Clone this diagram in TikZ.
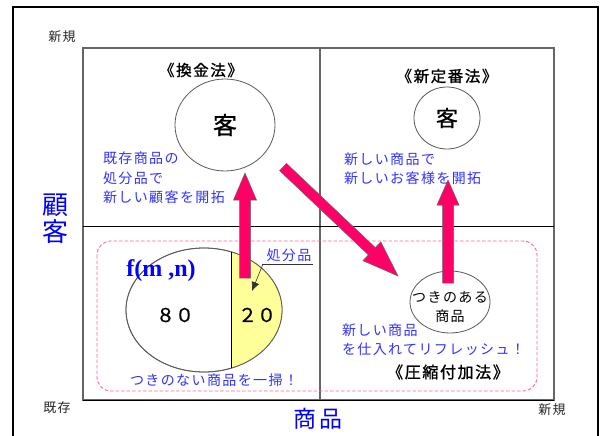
\documentclass[tikz,border=0pt]{standalone}
\usepackage{fontspec}
\setmainfont{Noto Sans CJK JP}
\newfontfamily\jp[LetterSpace=10]{Noto Sans CJK JP}
\newfontfamily\jpb[LetterSpace=10,FakeBold=1.2]{Noto Sans CJK JP}
\newfontfamily\jpm[FakeBold=0.8]{Noto Sans CJK JP}
\newfontfamily\tms{Liberation Serif}
\usetikzlibrary{calc,arrows.meta,shapes.geometric}
\definecolor{jblue}{RGB}{51,51,255}
\definecolor{bblue}{RGB}{0,0,255}
\definecolor{mag}{RGB}{255,0,102}
\definecolor{lyel}{RGB}{255,255,153}
\definecolor{pinkd}{RGB}{255,102,153}
% #1 name, #2 tail, #3 tip, #4 shaft half width, #5 head half width, #6 head length
\newcommand\fatarrow[6]{%
  \coordinate (#1h) at ($(#3)!#6!(#2)$);
  \draw[fatarrowst] ($(#2)!#4!90:(#3)$) -- ($(#1h)!#4!90:(#3)$) -- ($(#1h)!#5!90:(#3)$)
     -- (#3) -- ($(#1h)!#5!-90:(#3)$) -- ($(#1h)!#4!-90:(#3)$) -- ($(#2)!#4!-90:(#3)$) -- cycle;
}
\begin{document}
\begin{tikzpicture}[x=1pt,y=-1pt,
  every node/.style={inner sep=0pt, outer sep=0pt},
  frame/.style={draw=black, line width=2pt},
  gridln/.style={draw=black!60, line width=1.3pt},
  ell/.style={ellipse, draw=black!65, line width=0.8pt, fill=white},
  fatarrowst/.style={fill=mag, draw=black!60, line width=0.5pt, line join=miter},
  bluetxt/.style={text=jblue, font=\jp\fontsize{14}{19.5}\selectfont, align=left, anchor=west},
  lbl/.style={font=\jp\fontsize{13}{15}\selectfont, text=black!85},
  ttl/.style={font=\jpb\fontsize{15.5}{18}\selectfont},
]
\useasboundingbox (0,0) rectangle (605,436);
\fill[white] (0,0) rectangle (605,436);
\draw[frame] (13,436) -- (13,7) -- (598,7) -- (598,436);

% matrix
\draw[gridln] (83,48) rectangle (554,400);
\draw[gridln] (320,48) -- (320,400);
\draw[black, line width=0.8pt] (83,226) -- (554,226);
\draw[black, line width=1pt] (83,400) -- (554,400);

% axis labels
\node[lbl] (newTL) at (62,37) {新規};
\node[lbl] (oldBL) at (57,408) {既存};
\node[lbl] (newBR) at (552,410) {新規};
\node[font=\fontsize{26}{27}\selectfont, text=bblue, align=center] (kokyaku) at (55,219) {顧\\客};
\node[font=\jp\fontsize{23}{25}\selectfont, text=bblue] (shohin) at (318,419) {商品};

% pink dashed area
\draw[pinkd, line width=0.9pt, dash pattern=on 3.5pt off 2pt, rounded corners=14pt] (97,241) rectangle (537,391);

% top-left quadrant
\node[ttl] (t1) at (201,70) {《換金法》};
\node[ell, minimum width=100pt, minimum height=92pt, font=\jpm\fontsize{24}{24}\selectfont] (EL) at (225,125) {客};
\node[bluetxt] (b1) at (103,178) {既存商品の\\処分品で\\新しい顧客を開拓};

% top-right quadrant
\node[ttl] (t2) at (447,76) {《新定番法》};
\node[ell, minimum width=66pt, minimum height=62pt, font=\jpm\fontsize{22}{22}\selectfont] (ER) at (447,118) {客};
\node[bluetxt] (b2) at (344,168.5) {新しい商品で\\新しいお客様を開拓};

% bottom-left: 80/20 ellipse
\node[ell, minimum width=156pt, minimum height=124pt] (E80) at (204,310) {};
\begin{scope}
  \clip (231,240) rectangle (300,380);
  \fill[lyel] (E80.center) ellipse [x radius=78, y radius=62];
\end{scope}
\draw[black!65, line width=0.8pt] (E80.center) ellipse [x radius=78, y radius=62];
\draw[black, line width=1pt] (231,252) -- (231,368);
\node[font=\tms\bfseries\fontsize{24}{24}\selectfont, text=bblue] (fmn) at (161,271) {f(m ,n)};
\node[font=\jpm\fontsize{19}{19}\selectfont] (n80) at (175,315) {８０};
\node[font=\jpm\fontsize{19}{19}\selectfont] (n20) at (257,315) {２０};
\node[font=\jp\fontsize{14}{14}\selectfont, text=jblue] (sbh) at (289,255) {処分品};
\draw[black!80, line width=0.7pt] (262,264) -- (313,264);
\draw[black!80, line width=0.6pt, -{Latex[length=9pt,width=8pt]}] (263,264) -- (252,291);
\node[font=\jp\fontsize{14}{14}\selectfont, text=jblue] (b3) at (214,380) {つきのない商品を一掃！};

% bottom-right
\node[ell, minimum width=80pt, minimum height=62pt] (EN) at (450,302) {};
\node[font=\jp\fontsize{14}{19}\selectfont, align=center] (ENt) at (450,307) {つきのある\\商品};
\node[bluetxt] (b4) at (342,339.5) {新しい商品\\を仕入れてリフレッシュ！};
\node[font=\jpb\fontsize{16}{18}\selectfont] (t3) at (448,372) {《圧縮付加法》};

% arrows
\coordinate (a1s) at (245,278); \coordinate (a1e) at (245,173);
\fatarrow{a1}{a1s}{a1e}{5.5pt}{11.5pt}{27pt}
\coordinate (a2s) at (448,283); \coordinate (a2e) at (448,180);
\fatarrow{a2}{a2s}{a2e}{5.5pt}{11pt}{25pt}
\coordinate (a3s) at (283,167); \coordinate (a3e) at (398,276);
\fatarrow{a3}{a3s}{a3e}{5pt}{13pt}{36pt}
\end{tikzpicture}
\end{document}
